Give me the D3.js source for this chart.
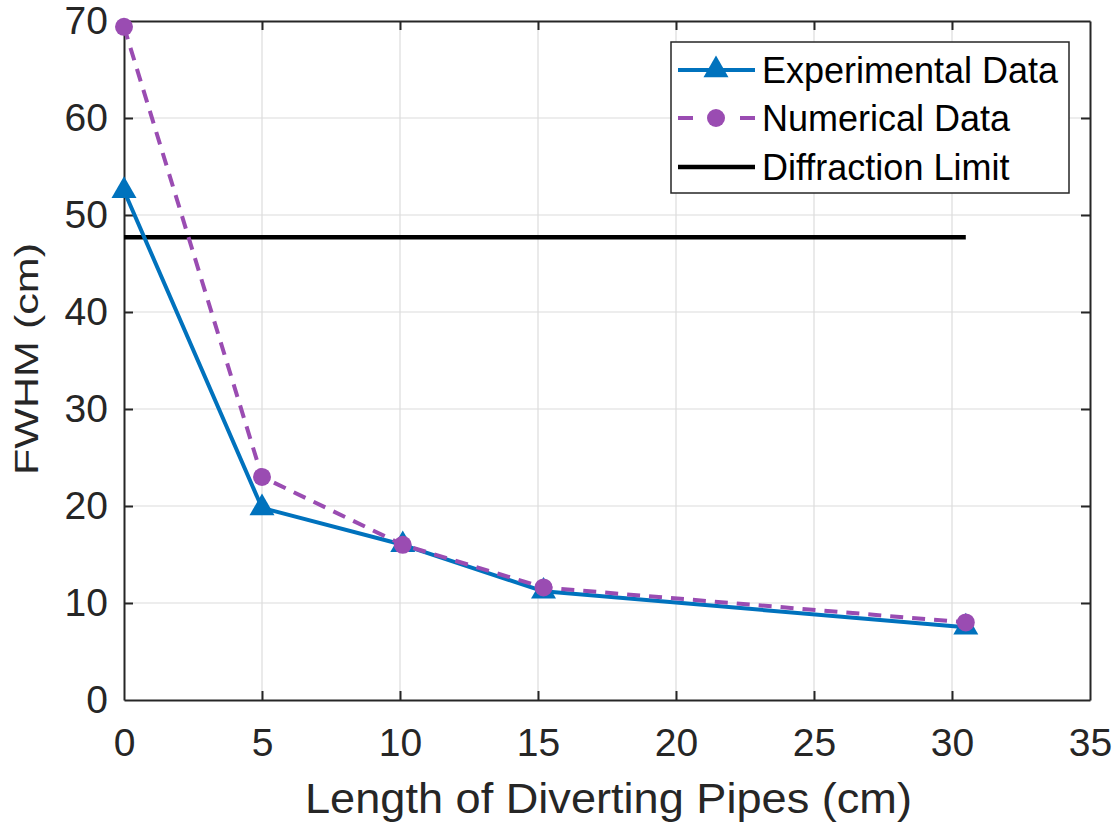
<!DOCTYPE html>
<html>
<head>
<meta charset="utf-8">
<script src="https://cdn.jsdelivr.net/npm/d3@7"></script>
<style>
  html, body { margin: 0; padding: 0; background: #fff; }
  svg { display: block; font-family: "Liberation Sans", Arial, Helvetica, sans-serif; }
</style>
</head>
<body>
<svg id="chart" width="1119" height="827"></svg>
<script>
// Pipe length (cm) and measured / simulated focal spot FWHM (cm)
const pipeLength = [0, 5, 10.1, 15.2, 30.5];
const experimental = [52.5, 19.8, 16.0, 11.2, 7.5];
const numerical = [69.4, 23.0, 16.0, 11.6, 8.0];
const diffractionLimit = 47.7;
const diffractionRange = [0, 30.5];
const xTicks = [0, 5, 10, 15, 20, 25, 30, 35];
const yTicks = [0, 10, 20, 30, 40, 50, 60, 70];
const seriesNames = ["Experimental Data", "Numerical Data", "Diffraction Limit"];

const svg = d3.select("#chart");
const margin = { left: 124, top: 21, right: 1119 - 1090, bottom: 827 - 700 };
const W = 1119 - margin.left - margin.right;
const H = 827 - margin.top - margin.bottom;

const x = d3.scaleLinear().domain([0, 35]).range([0, W]);
const y = d3.scaleLinear().domain([0, 70]).range([H, 0]);

const g = svg.append("g").attr("transform", `translate(${margin.left},${margin.top})`);

const axisColor = "#262626";
const blue = "#0072BD";
const purple = "#9A4CB2";
const lineW = 4;

// grid
g.append("g").selectAll("line").data(xTicks.slice(1, -1)).join("line")
  .attr("x1", d => x(d)).attr("x2", d => x(d)).attr("y1", 0).attr("y2", H)
  .attr("stroke", "#dcdcdc").attr("stroke-width", 1.2);
g.append("g").selectAll("line").data(yTicks.slice(1, -1)).join("line")
  .attr("y1", d => y(d)).attr("y2", d => y(d)).attr("x1", 0).attr("x2", W)
  .attr("stroke", "#dcdcdc").attr("stroke-width", 1.2);

// axes (ticks inside, MATLAB style)
const tickLen = 9;
const fontSize = 39;
const xAxis = d3.axisBottom(x).tickValues(xTicks).tickSizeInner(-tickLen).tickSizeOuter(0).tickPadding(28);
const yAxis = d3.axisLeft(y).tickValues(yTicks).tickSizeInner(-tickLen).tickSizeOuter(0).tickPadding(16);
const xg = g.append("g").attr("transform", `translate(0,${H})`).call(xAxis);
const yg = g.append("g").call(yAxis);
const xTop = g.append("g").call(d3.axisTop(x).tickValues(xTicks).tickSizeInner(-tickLen).tickSizeOuter(0).tickFormat(""));
const yRight = g.append("g").attr("transform", `translate(${W},0)`)
  .call(d3.axisRight(y).tickValues(yTicks).tickSizeInner(-tickLen).tickSizeOuter(0).tickFormat(""));
[xg, yg, xTop, yRight].forEach(a => {
  a.select(".domain").attr("stroke", axisColor).attr("stroke-width", 2);
  a.selectAll(".tick line").attr("stroke", axisColor).attr("stroke-width", 2);
  a.selectAll(".tick text").attr("fill", axisColor).style("font-size", fontSize + "px")
    .style("font-family", "'Liberation Sans', Arial, sans-serif");
});
// no tick marks at the corners
[xg, xTop].forEach(a => a.selectAll(".tick").filter(d => d === 0 || d === 35).select("line").remove());
[yg, yRight].forEach(a => a.selectAll(".tick").filter(d => d === 0 || d === 70).select("line").remove());

// axis labels
svg.append("text").attr("x", 305).attr("y", 813)
  .attr("fill", axisColor).style("font-size", "42px")
  .attr("textLength", 607).attr("lengthAdjust", "spacingAndGlyphs")
  .text("Length of Diverting Pipes (cm)");
svg.append("text").attr("transform", "translate(38,475) rotate(-90)")
  .attr("fill", axisColor).style("font-size", "34px")
  .attr("textLength", 232).attr("lengthAdjust", "spacingAndGlyphs")
  .text("FWHM (cm)");

// diffraction limit
g.append("line")
  .attr("x1", x(diffractionRange[0])).attr("x2", x(diffractionRange[1]))
  .attr("y1", y(diffractionLimit)).attr("y2", y(diffractionLimit))
  .attr("stroke", "#000").attr("stroke-width", 4.5);

const line = d3.line().x(d => x(d[0])).y(d => y(d[1]));
const numPts = pipeLength.map((v, i) => [v, numerical[i]]);
const expPts = pipeLength.map((v, i) => [v, experimental[i]]);

// experimental series
g.append("path").datum(expPts).attr("d", line)
  .attr("fill", "none").attr("stroke", blue).attr("stroke-width", lineW).attr("stroke-linejoin", "round");
const tri = d3.symbol().type(d3.symbolTriangle).size(270);
g.append("g").selectAll("path").data(expPts).join("path")
  .attr("transform", d => `translate(${x(d[0])},${y(d[1])})`)
  .attr("d", tri).attr("fill", blue);

// numerical series
g.append("path").datum(numPts).attr("d", line)
  .attr("fill", "none").attr("stroke", purple).attr("stroke-width", lineW).attr("stroke-dasharray", "13,9");
g.append("g").selectAll("circle").data(numPts).join("circle")
  .attr("cx", d => x(d[0])).attr("cy", d => y(d[1])).attr("r", 9).attr("fill", purple);

// legend
const lg = svg.append("g").attr("transform", "translate(671,42)");
lg.append("rect").attr("width", 398).attr("height", 151).attr("fill", "#fff")
  .attr("stroke", axisColor).attr("stroke-width", 1.5);
const rows = [28, 76, 125];
seriesNames.forEach((name, i) => {
  const ry = rows[i];
  if (i === 0) {
    lg.append("line").attr("x1", 7).attr("x2", 84).attr("y1", ry).attr("y2", ry)
      .attr("stroke", blue).attr("stroke-width", lineW);
    lg.append("path").attr("transform", `translate(45,${ry})`).attr("d", tri).attr("fill", blue);
  } else if (i === 1) {
    lg.append("line").attr("x1", 7).attr("x2", 84).attr("y1", ry).attr("y2", ry)
      .attr("stroke", purple).attr("stroke-width", lineW).attr("stroke-dasharray", "15,47");
    lg.append("circle").attr("cx", 45).attr("cy", ry).attr("r", 9).attr("fill", purple);
  } else {
    lg.append("line").attr("x1", 7).attr("x2", 84).attr("y1", ry).attr("y2", ry)
      .attr("stroke", "#000").attr("stroke-width", 4.5);
  }
  lg.append("text").attr("x", 91).attr("y", ry + 13).attr("fill", "#000")
    .style("font-size", "36px").text(name);
});
</script>
</body>
</html>
